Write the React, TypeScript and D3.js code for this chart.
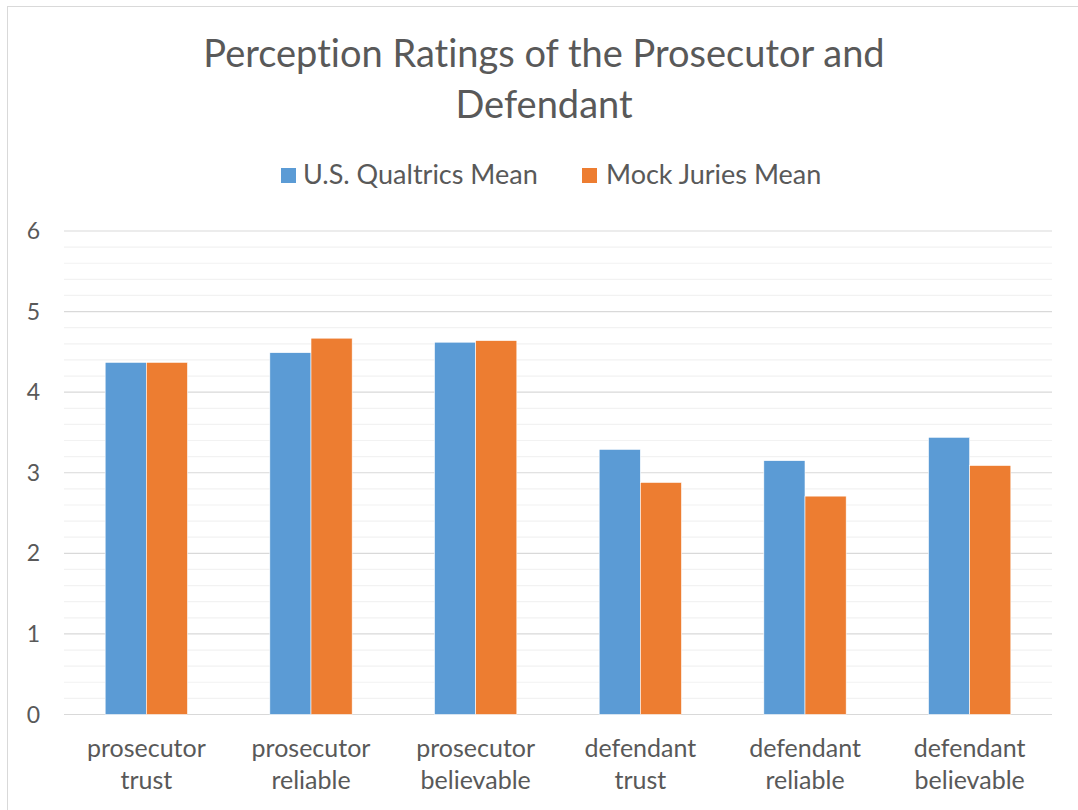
import React from "react";
import * as d3 from "d3";

const categories = [
  ["prosecutor", "trust"],
  ["prosecutor", "reliable"],
  ["prosecutor", "believable"],
  ["defendant", "trust"],
  ["defendant", "reliable"],
  ["defendant", "believable"],
];
const seriesNames = ["U.S. Qualtrics Mean", "Mock Juries Mean"];
const qualtricsMean = [4.37, 4.49, 4.62, 3.29, 3.15, 3.44];
const mockJuriesMean = [4.37, 4.67, 4.64, 2.88, 2.71, 3.09];
const yTicks = [0, 1, 2, 3, 4, 5, 6];
const colors = ["#5b9bd5", "#ed7d31"];

const W = 1078;
const H = 810;
const left = 64;
const right = 1052;
const top = 231;
const bottom = 714.5;
const FONT = "Lato, 'Open Sans', sans-serif";
const TEXT = "#595959";

export default function App() {
  const x = d3
    .scaleBand<number>()
    .domain(d3.range(categories.length))
    .range([left, right])
    .paddingInner(0.5)
    .paddingOuter(0.25);
  const xs = d3.scaleBand<number>().domain([0, 1]).range([0, x.bandwidth()]);
  const y = d3.scaleLinear().domain([0, 6]).range([bottom, top]);
  const minorTicks = d3.range(0, 6.001, 0.2).filter((v) => Math.abs(v - Math.round(v)) > 1e-6);
  const series = [qualtricsMean, mockJuriesMean];

  return (
    <svg
      width={W}
      height={H}
      style={{ position: "absolute", left: 0, top: 0, background: "#fff", fontVariantLigatures: "none" }}
      fontFamily={FONT}
    >
      <rect x={7.5} y={6.5} width={W + 10} height={H + 10} fill="#fff" stroke="#d9d9d9" />
      <text x={544} y={67} textAnchor="middle" fontSize={38} fill={TEXT}>
        Perception Ratings of the Prosecutor and
      </text>
      <text x={544} y={118} textAnchor="middle" fontSize={38} fill={TEXT}>
        Defendant
      </text>
      {/* legend */}
      <g>
        <rect x={281} y={168} width={15} height={15} fill={colors[0]} />
        <text x={303} y={184} fontSize={27} fill={TEXT}>
          {seriesNames[0]}
        </text>
        <rect x={582} y={168} width={15} height={15} fill={colors[1]} />
        <text x={606} y={184} fontSize={27} fill={TEXT}>
          {seriesNames[1]}
        </text>
      </g>
      {/* grid */}
      {minorTicks.map((v) => (
        <line key={"m" + v} x1={left} x2={right} y1={y(v)} y2={y(v)} stroke="#f2f2f2" strokeWidth={1.2} />
      ))}
      {yTicks.map((v) => (
        <line key={"M" + v} x1={left} x2={right} y1={y(v)} y2={y(v)} stroke="#d9d9d9" strokeWidth={1.2} />
      ))}
      {yTicks.map((v) => (
        <text key={"t" + v} x={40} y={y(v) + 8} textAnchor="end" fontSize={23} fill={TEXT}>
          {v}
        </text>
      ))}
      {/* bars */}
      {series.map((vals, si) =>
        vals.map((v, i) => (
          <rect
            key={si + "-" + i}
            x={(x(i) ?? 0) + (xs(si) ?? 0)}
            y={y(v)}
            width={xs.bandwidth()}
            height={y(0) - y(v)}
            fill={colors[si]}
            stroke="#fff"
            strokeWidth={0.6}
          />
        ))
      )}
      {/* category labels */}
      {categories.map((c, i) => {
        const cx = (x(i) ?? 0) + x.bandwidth() / 2;
        return (
          <text key={"c" + i} x={cx} textAnchor="middle" fontSize={25} fill={TEXT}>
            <tspan x={cx} y={757}>{c[0]}</tspan>
            <tspan x={cx} y={789}>{c[1]}</tspan>
          </text>
        );
      })}
    </svg>
  );
}
